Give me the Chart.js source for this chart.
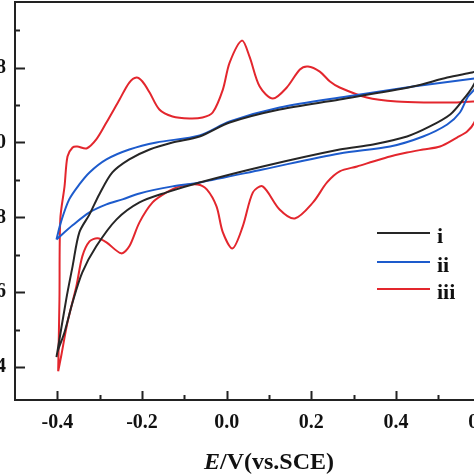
<!DOCTYPE html>
<html>
<head>
<meta charset="utf-8">
<script src="https://cdn.jsdelivr.net/npm/chart.js@4.4.1/dist/chart.umd.min.js"></script>
<style>
  html, body { margin: 0; padding: 0; background: #fff; }
  #frame { position: relative; width: 474px; height: 474px; overflow: hidden; }
  #box { position: absolute; left: -70px; top: 0; width: 620px; height: 474px; }
</style>
</head>
<body>
<div id="frame"><div id="box"><canvas id="cvChart"></canvas></div></div>
<script>
// curve i (black)
const blackE = [-0.402, -0.379, -0.364, -0.348, -0.324, -0.301, -0.270, -0.230, -0.182, -0.128, -0.064, 0.007, 0.125, 0.267, 0.440, 0.521, 0.580, 0.599,
  0.580, 0.559, 0.528, 0.480, 0.426, 0.346, 0.267, 0.085, -0.064, -0.142, -0.206, -0.260, -0.308, -0.341, -0.364, -0.383, -0.400, -0.402];
const blackI = [-2.293, -1.675, -1.323, -0.960, -0.768, -0.555, -0.320, -0.181, -0.075, 0.000, 0.064, 0.213, 0.352, 0.459, 0.597, 0.693, 0.747, 0.768,
  0.587, 0.459, 0.299, 0.171, 0.064, -0.021, -0.075, -0.256, -0.427, -0.533, -0.640, -0.821, -1.109, -1.387, -1.707, -2.027, -2.240, -2.293];

// curve ii (blue)
const blueE = [-0.402, -0.391, -0.372, -0.348, -0.324, -0.284, -0.230, -0.166, -0.064, 0.007, 0.125, 0.284, 0.440, 0.585, 0.599,
  0.585, 0.570, 0.551, 0.521, 0.464, 0.386, 0.267, 0.085, -0.064, -0.128, -0.206, -0.246, -0.284, -0.324, -0.364, -0.402];
const blueI = [-1.035, -0.843, -0.608, -0.448, -0.320, -0.181, -0.075, 0.000, 0.075, 0.224, 0.373, 0.491, 0.597, 0.683, 0.693,
  0.565, 0.491, 0.320, 0.192, 0.064, -0.043, -0.117, -0.288, -0.427, -0.469, -0.544, -0.608, -0.661, -0.747, -0.885, -1.035];

// curve iii (red)
const redE = [-0.398, -0.395, -0.393, -0.383, -0.376, -0.364, -0.353, -0.331, -0.308, -0.284, -0.253, -0.230, -0.213, -0.199, -0.182, -0.159, -0.128,
  -0.088, -0.057, -0.033, -0.009, 0.007, 0.036, 0.054, 0.078, 0.109, 0.142, 0.173, 0.192, 0.220, 0.244, 0.267, 0.331, 0.402, 0.480, 0.544, 0.585, 0.599,
  0.585, 0.568, 0.544, 0.504, 0.464, 0.426, 0.386, 0.346, 0.308, 0.267, 0.237, 0.204, 0.161, 0.125, 0.085, 0.062, 0.038, 0.014, -0.009, -0.024, -0.047,
  -0.069, -0.111, -0.142, -0.175, -0.206, -0.230, -0.249, -0.284, -0.305, -0.324, -0.341, -0.355, -0.376, -0.391, -0.398];
const redI = [-2.443, -1.675, -0.821, -0.469, -0.149, -0.053, -0.043, -0.064, 0.032, 0.213, 0.459, 0.640, 0.693, 0.651, 0.533, 0.352, 0.277,
  0.256, 0.267, 0.320, 0.565, 0.853, 1.088, 0.917, 0.597, 0.469, 0.587, 0.779, 0.811, 0.757, 0.651, 0.587, 0.480, 0.437, 0.427, 0.427, 0.437, 0.416,
  0.213, 0.117, 0.053, -0.043, -0.075, -0.107, -0.149, -0.203, -0.256, -0.309, -0.427, -0.640, -0.811, -0.715, -0.469, -0.533, -0.896, -1.131, -0.960, -0.683, -0.501,
  -0.448, -0.469, -0.533, -0.640, -0.853, -1.109, -1.184, -1.067, -1.024, -1.056, -1.216, -1.536, -1.920, -2.283, -2.443];

// axes
const xMajor = [-0.4, -0.2, 0.0, 0.2, 0.4, 0.6];
const xMinor = [-0.3, -0.1, 0.1, 0.3, 0.5];
const yMajor = [0.8, 0.0, -0.8, -1.6, -2.4];
const yMinor = [1.2, 0.4, -0.4, -1.2, -2.0];
const seriesNames = ['i', 'ii', 'iii'];
const seriesColors = ['#262626', '#1d5bcc', '#e3262d'];

const serif = "'Liberation Serif', 'Times New Roman', serif";

function toPoints(xs, ys) {
  return xs.map((v, i) => ({ x: v, y: ys[i] }));
}

function isMajor(list, v) {
  return list.some(m => Math.abs(m - v) < 1e-6);
}

// no extra padding from edge labels
function noPad(s) {
  s.paddingTop = 0;
  s.paddingBottom = 0;
  s.paddingLeft = 0;
  s.paddingRight = 0;
}

// box, inward ticks, legend and axis title
const decorations = {
  id: 'decorations',
  afterDraw(chart) {
    const ctx = chart.ctx;
    const a = chart.chartArea;
    const xs = chart.scales.x;
    const ys = chart.scales.y;
    ctx.save();
    ctx.strokeStyle = '#222';
    ctx.lineWidth = 2;
    ctx.strokeRect(a.left, a.top, a.right - a.left, a.bottom - a.top);

    ctx.beginPath();
    xMajor.concat(xMinor).forEach(v => {
      const p = Math.round(xs.getPixelForValue(v)) + 0.5;
      const len = isMajor(xMajor, v) ? 9 : 5;
      ctx.moveTo(p, a.bottom);
      ctx.lineTo(p, a.bottom - len);
    });
    yMajor.concat(yMinor).forEach(v => {
      const p = Math.round(ys.getPixelForValue(v)) + 0.5;
      const len = isMajor(yMajor, v) ? 10 : 5;
      ctx.moveTo(a.left, p);
      ctx.lineTo(a.left + len, p);
    });
    ctx.stroke();

    // legend
    const lx = a.left + 362;
    const rows = [a.top + 231, a.top + 260, a.top + 287];
    ctx.lineWidth = 2;
    seriesNames.forEach((name, i) => {
      ctx.strokeStyle = seriesColors[i];
      ctx.beginPath();
      ctx.moveTo(lx, rows[i]);
      ctx.lineTo(lx + 53, rows[i]);
      ctx.stroke();
      ctx.fillStyle = '#111';
      ctx.font = 'bold 22px ' + serif;
      ctx.textBaseline = 'alphabetic';
      ctx.textAlign = 'left';
      ctx.fillText(name, lx + 60, rows[i] + 10);
    });

    // x axis title with italic E
    const partA = 'E';
    const partB = '/V(vs.SCE)';
    const fontA = 'italic bold 24px ' + serif;
    const fontB = 'bold 24px ' + serif;
    ctx.font = fontA;
    const wA = ctx.measureText(partA).width;
    ctx.font = fontB;
    const wB = ctx.measureText(partB).width;
    const cx = (a.left + a.right) / 2;
    const start = cx - (wA + wB) / 2;
    const base = a.bottom + 69;
    ctx.fillStyle = '#111';
    ctx.font = fontA;
    ctx.fillText(partA, start, base);
    ctx.font = fontB;
    ctx.fillText(partB, start + wA, base);
    ctx.restore();
  }
};

const ctx = document.getElementById('cvChart');
new Chart(ctx, {
  type: 'scatter',
  data: {
    datasets: [
      { label: seriesNames[0], data: toPoints(blackE, blackI), borderColor: seriesColors[0] },
      { label: seriesNames[1], data: toPoints(blueE, blueI), borderColor: seriesColors[1] },
      { label: seriesNames[2], data: toPoints(redE, redI), borderColor: seriesColors[2] }
    ].map(d => Object.assign(d, {
      showLine: true,
      pointRadius: 0,
      borderWidth: 2,
      tension: 0.3,
      fill: false
    }))
  },
  options: {
    responsive: true,
    maintainAspectRatio: false,
    animation: false,
    layout: { padding: { left: 0, right: 27, top: 2, bottom: 0 } },
    plugins: {
      legend: { display: false },
      tooltip: { enabled: false }
    },
    scales: {
      x: {
        type: 'linear',
        min: -0.5,
        max: 0.7,
        afterBuildTicks: s => { s.ticks = xMajor.map(v => ({ value: v })); },
        afterFit: s => { s.height = 74; noPad(s); },
        grid: { display: false, drawTicks: false },
        border: { display: false },
        ticks: {
          padding: 11,
          autoSkip: false,
          maxRotation: 0,
          color: '#111',
          font: { family: serif, size: 20, weight: 'bold' },
          callback: v => v.toFixed(1)
        }
      },
      y: {
        type: 'linear',
        min: -2.75,
        max: 1.5,
        afterBuildTicks: s => { s.ticks = yMajor.map(v => ({ value: v })); },
        afterFit: s => { s.width = 85; noPad(s); },
        grid: { display: false, drawTicks: false },
        border: { display: false },
        ticks: {
          padding: 9,
          autoSkip: false,
          color: '#111',
          font: { family: serif, size: 20, weight: 'bold' },
          callback: v => v.toFixed(1)
        }
      }
    }
  },
  plugins: [decorations]
});
</script>
</body>
</html>
